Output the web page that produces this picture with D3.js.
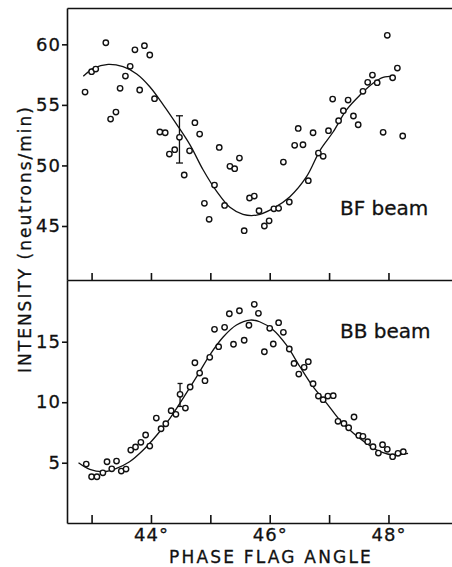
<!DOCTYPE html>
<html>
<head>
<meta charset="utf-8">
<script src="https://cdn.jsdelivr.net/npm/d3@7"></script>
<style>
  body { margin: 0; background: #fff; }
  svg text { font-family: "DejaVu Sans", sans-serif; fill: #111; stroke: #111; stroke-width: 0.3; }
  .axis path, .axis line { stroke: #111; stroke-width: 1.6; }
  .fit { fill: none; stroke: #111; stroke-width: 1.3; }
  .pt { fill: #fff; stroke: #111; stroke-width: 1.4; }
  .err { stroke: #111; stroke-width: 1.3; }
</style>
</head>
<body>
<div id="graph"></div>
<script>
// BF beam (top panel): phase flag angle (deg) and intensity
var bfAngle = [ 42.89, 43.00, 43.07, 43.24, 43.32, 43.41, 43.48, 43.57, 43.65, 43.73,
                43.81, 43.89, 43.98, 44.06, 44.15, 44.24, 44.31, 44.40, 44.48, 44.56,
                44.65, 44.74, 44.82, 44.90, 44.98, 45.07, 45.15, 45.24, 45.33, 45.41,
                45.49, 45.57, 45.66, 45.74, 45.82, 45.91, 45.99, 46.07, 46.15, 46.23,
                46.33, 46.42, 46.48, 46.56, 46.65, 46.73, 46.82, 46.90, 46.99, 47.06,
                47.16, 47.24, 47.32, 47.41, 47.49, 47.57, 47.65, 47.73, 47.81, 47.91,
                47.98, 48.07, 48.15, 48.24 ];
var bfValue = [ 56.06, 57.74, 57.96, 60.13, 53.83, 54.41, 56.37, 57.38, 58.18, 59.55,
                56.23, 59.89, 59.12, 55.51, 52.76, 52.70, 50.94, 51.30, 52.32, 49.21,
                51.21, 53.53, 52.59, 46.87, 45.55, 48.38, 51.49, 46.70, 49.93, 49.73,
                50.61, 44.61, 47.31, 47.47, 46.26, 45.00, 45.43, 46.42, 46.46, 50.28,
                46.98, 51.66, 53.06, 51.71, 48.74, 52.70, 51.02, 50.75, 52.87, 55.48,
                53.69, 54.52, 55.40, 54.08, 53.36, 56.12, 56.86, 57.46, 56.83, 52.73,
                60.74, 57.24, 58.04, 52.43 ];

// BF fitted curve
var bfFitAngle = [ 42.86, 43.03, 43.28, 43.53, 43.76, 43.98, 44.21, 44.43, 44.66, 44.88,
                   45.11, 45.33, 45.55, 45.78, 46.06, 46.34, 46.62, 46.85, 47.07, 47.29,
                   47.52, 47.74, 47.91, 48.08 ];
var bfFitValue = [ 57.36, 58.02, 58.35, 58.15, 57.55, 56.50, 54.99, 53.42, 51.68, 49.62,
                   47.83, 46.54, 45.96, 45.90, 46.46, 47.42, 49.07, 51.27, 52.78, 54.57,
                   55.81, 56.78, 57.27, 57.38 ];

// BB beam (bottom panel)
var bbAngle = [ 42.91, 43.00, 43.09, 43.19, 43.26, 43.34, 43.42, 43.50, 43.58, 43.66,
                43.74, 43.83, 43.91, 43.98, 44.09, 44.17, 44.25, 44.34, 44.42, 44.49,
                44.58, 44.66, 44.74, 44.82, 44.91, 44.99, 45.07, 45.14, 45.24, 45.32,
                45.39, 45.49, 45.57, 45.65, 45.74, 45.81, 45.91, 46.00, 46.06, 46.15,
                46.23, 46.33, 46.41, 46.49, 46.58, 46.65, 46.73, 46.82, 46.90, 46.98,
                47.07, 47.15, 47.25, 47.33, 47.42, 47.50, 47.57, 47.65, 47.74, 47.83,
                47.90, 47.98, 48.07, 48.16, 48.25 ];
var bbValue = [ 4.89, 3.84, 3.84, 4.17, 5.08, 4.50, 5.14, 4.31, 4.48, 6.05,
                6.30, 6.69, 7.29, 6.38, 8.69, 7.81, 8.22, 9.30, 9.00, 10.65,
                9.52, 11.26, 13.26, 12.41, 11.78, 13.71, 16.02, 14.59, 16.19, 17.31,
                14.79, 17.56, 15.12, 16.36, 18.09, 17.35, 14.17, 16.11, 14.81, 16.57,
                15.78, 14.40, 13.21, 12.33, 12.88, 13.35, 11.53, 10.51, 10.21, 10.51,
                10.54, 8.42, 8.25, 7.89, 8.78, 7.26, 7.18, 6.74, 6.32, 5.80,
                6.49, 6.11, 5.50, 5.78, 5.91 ];

var bbFitAngle = [ 42.78, 42.97, 43.20, 43.42, 43.64, 43.87, 44.10, 44.32, 44.54, 44.77,
                   44.99, 45.22, 45.44, 45.67, 45.83, 46.06, 46.28, 46.51, 46.73, 46.96,
                   47.18, 47.41, 47.63, 47.86, 48.08, 48.33 ];
var bbFitValue = [ 5.00, 4.45, 4.26, 4.54, 5.08, 6.05, 7.29, 8.67, 10.32, 12.11,
                   13.90, 15.41, 16.38, 16.79, 16.65, 15.97, 14.73, 12.93, 11.28, 9.91,
                   8.53, 7.43, 6.60, 5.91, 5.64, 5.78 ];

// error bars: [angle, low, high]
var bfError = [ 44.48, 50.2, 54.1 ];
var bbError = [ 44.49, 9.65, 11.55 ];

// ticks and labels
var xTicks = [ 43, 44, 45, 46, 47, 48 ];
var xLabelTicks = [ 44, 46, 48 ];
var bfTicks = [ 45, 50, 55, 60 ];
var bbTicks = [ 5, 10, 15 ];

var W = 452, H = 567;
var pLeft = 67, pRight = 452, pTop = 8, pMid = 280, pBottom = 523;

var svg = d3.select( "#graph" ).append( "svg" )
    .attr( "width", W )
    .attr( "height", H );

// scales
var x = d3.scaleLinear().domain( [ 42.586, 49.07 ] ).range( [ pLeft, pRight ] ),
    yTop = d3.scaleLinear().domain( [ 40.54, 63.0 ] ).range( [ pMid, pTop ] ),
    yBot = d3.scaleLinear().domain( [ 0.02, 20.1 ] ).range( [ pBottom, pMid ] );

function zip( a, b ){
  return a.map( function( d, i ){ return { x: d, y: b[ i ] }; } );
}

// left axes
svg.append( "g" )
    .attr( "class", "axis" )
    .attr( "transform", "translate(" + pLeft + ",0)" )
    .call( d3.axisLeft( yTop ).tickValues( bfTicks ).tickSize( 5 ).tickSizeOuter( 0 ).tickPadding( 1 ) );
svg.append( "g" )
    .attr( "class", "axis" )
    .attr( "transform", "translate(" + pLeft + ",0)" )
    .call( d3.axisLeft( yBot ).tickValues( bbTicks ).tickSize( 5 ).tickSizeOuter( 0 ).tickPadding( 1 ) );

// top border, divider and bottom axis
svg.append( "g" )
    .attr( "class", "axis" )
    .attr( "transform", "translate(0," + pTop + ")" )
    .call( d3.axisBottom( x ).tickValues( [] ).tickSizeOuter( 0 ) );
svg.append( "g" )
    .attr( "class", "axis" )
    .attr( "transform", "translate(0," + pMid + ")" )
    .call( d3.axisTop( x ).tickValues( xTicks ).tickSize( 7 ).tickSizeOuter( 0 ).tickFormat( "" ) );
svg.append( "g" )
    .attr( "class", "axis" )
    .attr( "transform", "translate(0," + pBottom + ")" )
    .call( d3.axisTop( x ).tickValues( xTicks ).tickSize( 8 ).tickSizeOuter( 0 ).tickFormat( "" ) );
svg.append( "g" )
    .attr( "class", "axis labels" )
    .attr( "transform", "translate(0," + pBottom + ")" )
    .call( d3.axisBottom( x ).tickValues( xLabelTicks ).tickSize( 0 ).tickPadding( 5 )
      .tickFormat( function( d ){ return d + "°"; } ) )
    .call( function( g ){ g.select( ".domain" ).remove(); } );

svg.selectAll( ".axis text" )
    .style( "font-size", "18px" )
    .style( "letter-spacing", "1px" );

// axis titles
svg.append( "text" )
    .attr( "x", 271 )
    .attr( "y", 563 )
    .attr( "text-anchor", "middle" )
    .style( "font-size", "17px" )
    .style( "letter-spacing", "2.2px" )
    .text( "PHASE FLAG ANGLE" );

svg.append( "text" )
    .attr( "transform", "translate(31,239) rotate(-90)" )
    .attr( "text-anchor", "middle" )
    .style( "font-size", "17px" )
    .style( "letter-spacing", "2px" )
    .text( "INTENSITY (neutrons/min)" );

// panel labels
svg.append( "text" )
    .attr( "x", 340 ).attr( "y", 215 )
    .style( "font-size", "20px" )
    .text( "BF beam" );
svg.append( "text" )
    .attr( "x", 340 ).attr( "y", 338 )
    .style( "font-size", "20px" )
    .text( "BB beam" );

// draw one panel: fit line, error bar, points
function panel( y, fitA, fitV, angle, value, err, cap ){
  var line = d3.line()
      .x( function( d ){ return x( d.x ); } )
      .y( function( d ){ return y( d.y ); } )
      .curve( d3.curveCatmullRom );

  svg.append( "path" )
      .datum( zip( fitA, fitV ) )
      .attr( "class", "fit" )
      .attr( "d", line );

  var ex = x( err[ 0 ] );
  svg.append( "line" ).attr( "class", "err" )
      .attr( "x1", ex ).attr( "x2", ex )
      .attr( "y1", y( err[ 1 ] ) ).attr( "y2", y( err[ 2 ] ) );
  [ err[ 1 ], err[ 2 ] ].forEach( function( v ){
    svg.append( "line" ).attr( "class", "err" )
        .attr( "x1", ex - cap ).attr( "x2", ex + cap )
        .attr( "y1", y( v ) ).attr( "y2", y( v ) );
  } );

  svg.append( "g" ).selectAll( "circle" )
      .data( zip( angle, value ) )
    .enter().append( "circle" )
      .attr( "class", "pt" )
      .attr( "r", 2.7 )
      .attr( "cx", function( d ){ return x( d.x ); } )
      .attr( "cy", function( d ){ return y( d.y ); } );
}

panel( yTop, bfFitAngle, bfFitValue, bfAngle, bfValue, bfError, 3.5 );
panel( yBot, bbFitAngle, bbFitValue, bbAngle, bbValue, bbError, 2.5 );
</script>
</body>
</html>
